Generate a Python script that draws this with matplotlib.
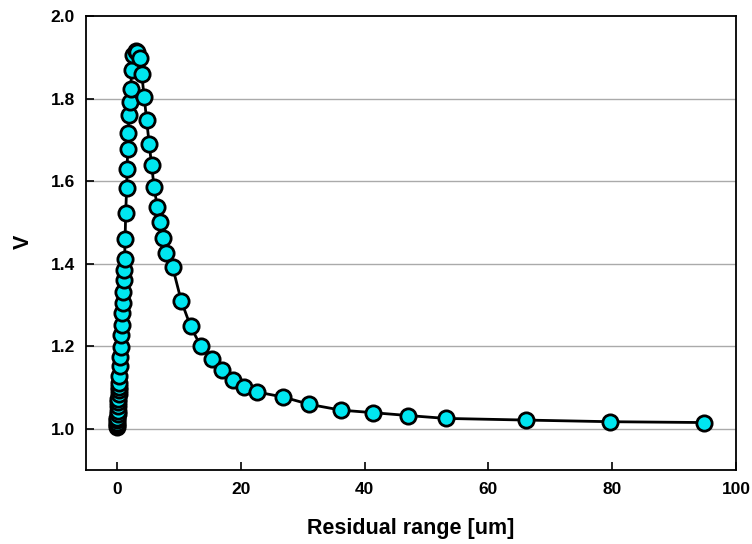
import matplotlib.pyplot as plt

# residual range [um] and V
residual_range = [
    0.0, 0.0, 0.0, 0.03, 0.06, 0.1, 0.13, 0.16, 0.19, 0.23, 0.26, 0.29,
    0.32, 0.34, 0.37, 0.44, 0.52, 0.6, 0.68, 0.76, 0.84, 0.92, 1.0, 1.08,
    1.16, 1.24, 1.32, 1.41, 1.57, 1.65, 1.73, 1.81, 1.97, 2.13, 2.21, 2.38,
    2.54, 3.0, 3.27, 3.67, 4.0, 4.4, 4.8, 5.2, 5.6, 6.0, 6.5, 7.0, 7.5, 8.0,
    9.0, 10.4, 11.9, 13.5, 15.3, 16.9, 18.7, 20.6, 22.6, 26.8, 31.1, 36.2,
    41.3, 47.0, 53.1, 66.0, 79.7, 94.8,
]
voltage = [
    1.003, 1.008, 1.013, 1.020, 1.027, 1.035, 1.044, 1.054, 1.064, 1.073,
    1.083, 1.093, 1.102, 1.112, 1.127, 1.151, 1.175, 1.199, 1.226, 1.252,
    1.281, 1.305, 1.332, 1.361, 1.385, 1.412, 1.460, 1.523, 1.584, 1.629,
    1.678, 1.717, 1.760, 1.792, 1.823, 1.869, 1.905, 1.915, 1.912, 1.898,
    1.859, 1.804, 1.747, 1.691, 1.638, 1.586, 1.538, 1.501, 1.462, 1.425,
    1.391, 1.309, 1.248, 1.201, 1.168, 1.142, 1.119, 1.102, 1.089, 1.077,
    1.059, 1.045, 1.039, 1.032, 1.025, 1.021, 1.017, 1.015,
]

x_ticks = [0, 20, 40, 60, 80, 100]
y_ticks = [1.0, 1.2, 1.4, 1.6, 1.8, 2.0]

plt.rcParams["font.family"] = ["Liberation Sans", "DejaVu Sans"]
plt.rcParams["font.weight"] = "bold"

fig = plt.figure(figsize=(7.52, 5.44), dpi=100)
ax = fig.add_axes([86 / 752, 1 - 470 / 544, 650 / 752, 454 / 544])

for y in y_ticks[:-1]:
    ax.axhline(y, color="#aaaaaa", linewidth=1.0, zorder=0)

ax.plot(
    residual_range,
    voltage,
    color="black",
    linewidth=2.0,
    marker="o",
    markersize=11,
    markerfacecolor="#00e6f0",
    markeredgecolor="black",
    markeredgewidth=2.0,
)

ax.set_xlim(-5, 100)
ax.set_ylim(0.9, 2.0)
ax.set_xticks(x_ticks)
ax.set_yticks(y_ticks)
ax.set_xticklabels([str(t) for t in x_ticks])
ax.set_yticklabels([f"{t:.1f}" for t in y_ticks])
ax.tick_params(direction="in", length=6, width=1.2, labelsize=12.5)
ax.tick_params(axis="x", pad=9)
ax.tick_params(axis="y", pad=8)

for spine in ax.spines.values():
    spine.set_linewidth(1.3)

ax.set_xlabel("Residual range [um]", fontsize=15.5, fontweight="bold")
ax.set_ylabel("V", fontsize=15.5, fontweight="bold")
ax.xaxis.set_label_coords(0.5, -0.128)
ax.xaxis.label.set_va("center")
ax.yaxis.set_label_coords(-0.096, 0.502)
ax.yaxis.label.set_va("center")

fig.savefig("out.png", dpi=100)
